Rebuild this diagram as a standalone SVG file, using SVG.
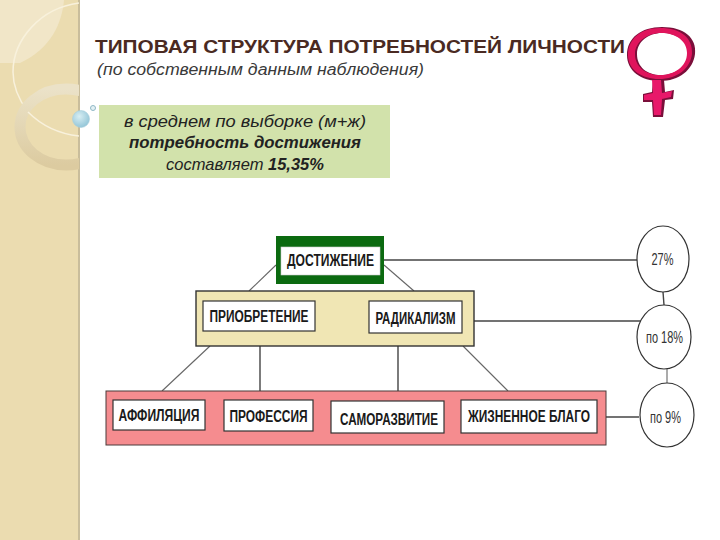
<svg xmlns="http://www.w3.org/2000/svg" width="720" height="540" viewBox="0 0 720 540">
<style>
text{font-family:"Liberation Sans",Arial,sans-serif}
.lbl{font-size:16px;font-weight:bold;fill:#1a1a1a;text-anchor:middle}
.pct{font-size:17px;fill:#333;text-anchor:middle}
.box{fill:#fff;stroke:#333;stroke-width:1.2}
.circ{fill:#fff;stroke:#333;stroke-width:1.2}
.line{stroke:#444;stroke-width:1.4;fill:none}
.thin{stroke:#666;stroke-width:1.1;fill:none}
.info{font-size:17px;font-style:italic;fill:#222;text-anchor:middle}
</style>
<defs>
<clipPath id="panelClip"><rect x="0" y="0" width="79" height="540"/></clipPath>
<radialGradient id="bead" cx="0.4" cy="0.35" r="0.7"><stop offset="0" stop-color="#d8eef3"/><stop offset="1" stop-color="#8fc3d6"/></radialGradient>
<linearGradient id="ring" x1="0" y1="0" x2="0" y2="1"><stop offset="0" stop-color="#ebe2c8"/><stop offset="1" stop-color="#dccba0"/></linearGradient>
</defs>
<rect width="720" height="540" fill="#fff"/>
<g id="panel">
<rect x="0" y="0" width="79" height="540" fill="#ebdcb0"/>
<rect x="78" y="0" width="2" height="540" fill="#c9bd9b"/>
<g clip-path="url(#panelClip)">
<path d="M0 0H64C62 22 52 48 20 63H0Z" fill="#f1e6c8"/>
<path d="M79 3C40 8 13 40 13 72C13 85 19 100 28 112" fill="none" stroke="#f8f1dc" stroke-width="1.5"/>
<ellipse cx="66" cy="127" rx="46" ry="38" fill="none" stroke="url(#ring)" stroke-width="11"/>
<path d="M28 112C42 126 60 134 79 136" fill="none" stroke="#f8f1dc" stroke-width="1.5"/>
</g>
<circle cx="81" cy="119" r="8.5" fill="url(#bead)" stroke="#a9cfdc" stroke-width="0.6"/>
<circle cx="93" cy="108" r="2.5" fill="#e4f1f4" stroke="#8fb8c6" stroke-width="1"/>
</g>
<g id="title">
<text x="95" y="53" font-size="17.500" font-weight="bold" fill="#4a2a22" textLength="530" lengthAdjust="spacingAndGlyphs">ТИПОВАЯ СТРУКТУРА ПОТРЕБНОСТЕЙ ЛИЧНОСТИ</text>
<text x="97" y="75" font-size="16" font-style="italic" fill="#3a3a3a" textLength="327" lengthAdjust="spacingAndGlyphs">(по собственным данным наблюдения)</text>
</g>
<g id="venus">
<path fill-rule="evenodd" fill="#7a0f3a" d="M662 27C684 27 697 38 695 54C693 70 679 81 660 81C641 81 627 71 627 55C627 38 641 27 662 27ZM662 33C648 33 637 42 637 54C637 67 647 75 661 75C675 75 688 67 688 53C688 41 677 33 662 33Z"/>
<path fill-rule="evenodd" fill="#e0145c" d="M660 28C681 28 693 38 692 54C690 69 677 79 659 79C642 79 628 70 628 55C628 39 641 28 660 28ZM661 33C647 33 635 42 635 54C635 67 646 75 660 75C674 75 687 67 687 53C687 41 676 33 661 33Z"/>
<path fill="#7a0f3a" d="M653 80L664 80L665 92L674 90L673 99L665 100L663 117L653 117L652 102L643 102L643 94L652 92Z"/>
<path fill="#e8186a" d="M652 80L661 80L662 93L672 91L671 97L662 99L661 115L654 115L653 100L644 100L644 95L653 93Z"/>
</g>
<g id="info">
<rect x="99" y="105" width="291" height="73" fill="#d2e2ab"/>
<text class="info" x="245" y="127" textLength="242" lengthAdjust="spacingAndGlyphs">в среднем по выборке (м+ж)</text>
<text class="info" x="245" y="148" font-weight="bold" fill="#111" textLength="232" lengthAdjust="spacingAndGlyphs">потребность достижения</text>
<text class="info" x="245" y="170" textLength="158" lengthAdjust="spacingAndGlyphs">составляет <tspan font-weight="bold">15,35%</tspan></text>
</g>
<g id="connectors">
<path class="line" d="M384 260H637"/>
<path class="line" d="M474 321H641"/>
<path class="line" d="M606 417H639"/>
<path class="line" d="M663 292L664 305"/>
<path class="thin" d="M667 369V383"/>
<path class="thin" d="M276 265L249 291"/>
<path class="thin" d="M384 265L414 291"/>
<path class="thin" d="M210 346L162 391"/>
<path class="line" d="M260 346V391"/>
<path class="line" d="M398 346V391"/>
<path class="thin" d="M463 346L508 391"/>
</g>
<g id="dostizhenie">
<rect x="276" y="236" width="108" height="48" fill="#0b6a10"/>
<rect x="281" y="247" width="99" height="28" fill="#fff" stroke="#ccc" stroke-width="0.6"/>
<text class="lbl" x="330.500" y="266" textLength="87" lengthAdjust="spacingAndGlyphs">ДОСТИЖЕНИЕ</text>
</g>
<g id="yellow-band">
<rect x="196" y="291" width="278" height="55" fill="#f0e6b4" stroke="#333" stroke-width="1.4"/>
</g>
<g id="priobretenie">
<rect class="box" x="203" y="301" width="112" height="30"/>
<text class="lbl" x="259" y="322" textLength="99" lengthAdjust="spacingAndGlyphs">ПРИОБРЕТЕНИЕ</text>
</g>
<g id="radikalizm">
<rect class="box" x="369" y="301" width="93" height="32"/>
<text class="lbl" x="415.500" y="324" textLength="80" lengthAdjust="spacingAndGlyphs">РАДИКАЛИЗМ</text>
</g>
<g id="pink-band">
<rect x="106" y="391" width="500" height="54" fill="#f58c8f" stroke="#4a3a3a" stroke-width="1"/>
</g>
<g id="affiliatsiya">
<rect class="box" x="113" y="400" width="92" height="30"/>
<text class="lbl" x="159" y="421" textLength="81" lengthAdjust="spacingAndGlyphs">АФФИЛЯЦИЯ</text>
</g>
<g id="professiya">
<rect class="box" x="224" y="400" width="89" height="31"/>
<text class="lbl" x="268.500" y="422" textLength="78" lengthAdjust="spacingAndGlyphs">ПРОФЕССИЯ</text>
</g>
<g id="samorazvitie">
<rect class="box" x="331" y="401" width="113" height="32"/>
<text class="lbl" x="389" y="425" textLength="98" lengthAdjust="spacingAndGlyphs">САМОРАЗВИТИЕ</text>
</g>
<g id="zhiznennoe">
<rect class="box" x="461" y="400" width="136" height="33"/>
<text class="lbl" x="529" y="422" textLength="122" lengthAdjust="spacingAndGlyphs">ЖИЗНЕННОЕ БЛАГО</text>
</g>
<g id="c27">
<ellipse class="circ" cx="663" cy="259" rx="26" ry="33"/>
<text class="pct" x="662.500" y="265" textLength="22" lengthAdjust="spacingAndGlyphs">27%</text>
</g>
<g id="c18">
<ellipse class="circ" cx="664" cy="337" rx="27" ry="32"/>
<text class="pct" x="664.500" y="343" textLength="37" lengthAdjust="spacingAndGlyphs">по 18%</text>
</g>
<g id="c9">
<ellipse class="circ" cx="667" cy="415" rx="27" ry="32"/>
<text class="pct" x="665.500" y="423" textLength="31" lengthAdjust="spacingAndGlyphs">по 9%</text>
</g>
</svg>
